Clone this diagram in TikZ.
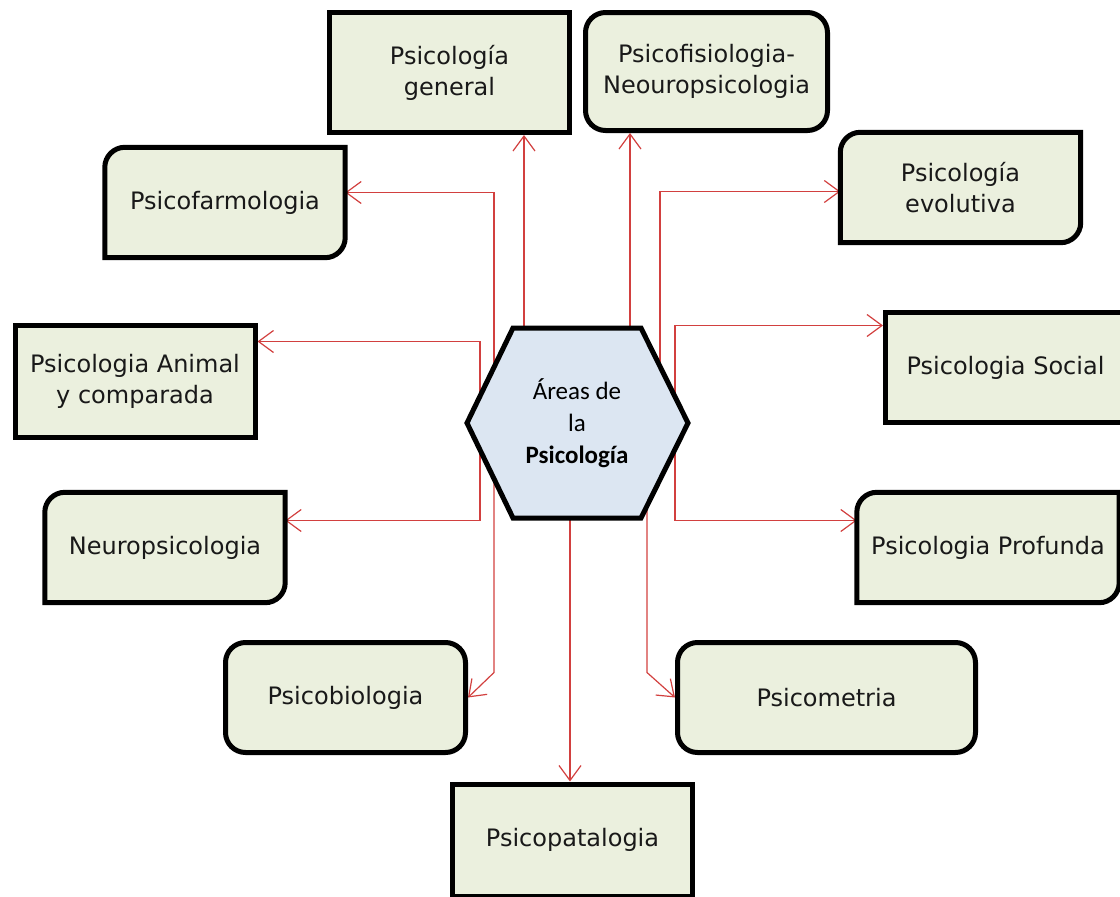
\documentclass[tikz,border=0pt]{standalone}
\usepackage{fontspec}
\usepackage{tikz}
\usetikzlibrary{calc,arrows.meta}
\newfontfamily\boxfont{DejaVu Sans}
\newfontfamily\hexfont{Carlito}
\definecolor{boxfill}{HTML}{EBF0DE}
\definecolor{hexfill}{HTML}{DCE6F2}
\definecolor{linkred}{HTML}{D2403F}
\pgfdeclarelayer{lines}
\pgfdeclarelayer{shapes}
\pgfsetlayers{lines,shapes,main}
\newcommand{\diagframe}[1]{%
  \filldraw[frame] (#1.south west) -- ($(#1.north west)+(0,20)$)
    .. controls ($(#1.north west)+(0,9)$) and ($(#1.north west)+(9,0)$) .. ($(#1.north west)+(20,0)$)
    -- (#1.north east) -- ($(#1.south east)+(0,-20)$)
    .. controls ($(#1.south east)+(0,-9)$) and ($(#1.south east)+(-9,0)$) .. ($(#1.south east)+(-20,0)$)
    -- cycle;}

\begin{document}
\begin{tikzpicture}[x=1pt,y=-1pt,
    area/.style={minimum width=240pt,minimum height=110pt,align=center,
      font=\boxfont\fontsize{24}{31}\selectfont,text=black!90},
    plain/.style={area,draw,line width=5pt,fill=boxfill},
    round/.style={plain,rounded corners=20pt},
    diag/.style={area},
    frame/.style={draw,line width=5pt,fill=boxfill},
    hexframe/.style={draw,line width=5pt,fill=hexfill},
    link/.style={draw=linkred,line width=1.2pt,-{Straight Barb[length=15pt,width=22pt]}}]
    \useasboundingbox (0,0) rectangle (1120,897);

    \node[align=center,font=\hexfont\fontsize{25}{32}\selectfont] (areas) at (577,423) {Áreas de\\la\\\textbf{Psicología}};

    \node[plain,minimum height=120pt] (gen) at (449.5,72.5) {Psicología\\general};
    \node[round,minimum height=118pt,minimum width=242pt] (fisio) at (706.5,71.5) {Psicofisiologia-\\Neouropsicologia};
    \node[diag] (farm) at (225,202.5) {Psicofarmologia};
    \node[diag] (evol) at (960.5,187.5) {Psicología\\evolutiva};
    \node[plain,minimum height=112pt] (animal) at (135,381.5) {Psicologia Animal\\y comparada};
    \node[plain] (social) at (1005.5,367.5) {Psicologia Social};
    \node[diag] (neuro) at (165,547.5) {Neuropsicologia};
    \node[diag,minimum width=262pt] (prof) at (988,547.5) {Psicologia Profunda};
    \node[round] (bio) at (345.5,697.5) {Psicobiologia};
    \node[round,minimum width=298pt] (metria) at (826.5,697.5) {Psicometria};
    \node[plain,minimum height=112pt] (pata) at (572.5,840) {Psicopatalogia};

    \begin{pgfonlayer}{shapes}
        \filldraw[hexframe] ($(areas)+(-110,0)$) -- ($(areas)+(-64,-95)$) -- ($(areas)+(64,-95)$)
            -- ($(areas)+(111,0)$) -- ($(areas)+(64,95)$) -- ($(areas)+(-64,95)$) -- cycle;
        \diagframe{farm}
        \diagframe{evol}
        \diagframe{neuro}
        \diagframe{prof}
    \end{pgfonlayer}

    \coordinate (sGen) at ($(areas)+(-53,0)$);
    \coordinate (sFisio) at ($(areas)+(53,0)$);
    \coordinate (sFarm) at ($(areas)+(-83,0)$);
    \coordinate (sAnimal) at ($(areas)+(-97,0)$);
    \coordinate (sPata) at ($(areas)+(-7,0)$);
    \coordinate (sMetria) at ($(areas)+(70,0)$);
    \coordinate (sEvol) at ($(areas)+(83,0)$);
    \coordinate (sSocial) at ($(areas)+(98,0)$);

    \begin{pgfonlayer}{lines}
        \path[link] (sGen) -- (sGen |- gen.south);
        \path[link] (sFisio) -- (sFisio |- fisio.south);
        \path[link] (sFarm) |- ([yshift=10pt]farm.east);
        \path[link] (sFarm) -- ([shift={(26pt,25pt)}]bio.east) -- (bio.east);
        \path[link] (sAnimal) |- ([yshift=40pt]animal.east);
        \path[link] (sAnimal) |- ([yshift=27pt]neuro.east);
        \path[link] (sPata) -- (sPata |- pata.north);
        \path[link] (sMetria) -- ([shift={(-28pt,25pt)}]metria.west) -- (metria.west);
        \path[link] (sEvol) |- ([yshift=-4pt]evol.west);
        \path[link] (sSocial) |- ([yshift=42pt]social.west);
        \path[link] (sSocial) |- ([yshift=27pt]prof.west);
    \end{pgfonlayer}
\end{tikzpicture}
\end{document}
